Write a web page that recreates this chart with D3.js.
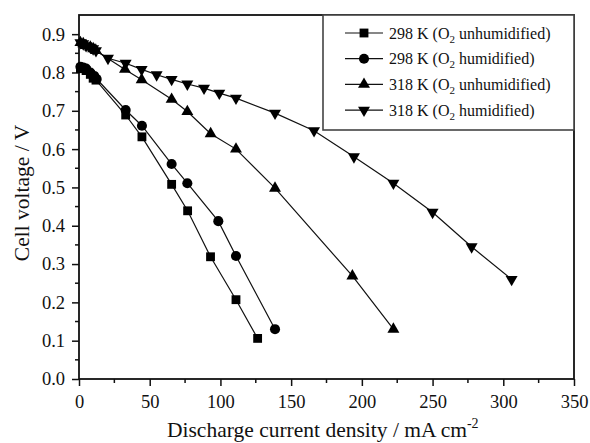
<!DOCTYPE html>
<html><head><meta charset="utf-8">
<script src="https://cdn.jsdelivr.net/npm/d3@7"></script>
<style>body{margin:0;background:#fff}svg{display:block}text{font-family:"Liberation Serif","Times New Roman",serif;fill:#111}</style>
</head><body><svg id="c" width="590" height="443"></svg>
<script>
const xTicks = [0,50,100,150,200,250,300,350];
const yTicks = [0.0,0.1,0.2,0.3,0.4,0.5,0.6,0.7,0.8,0.9];
const seriesNames = ["298 K (O", "298 K (O", "318 K (O", "318 K (O"];
const seriesSuffix = [" unhumidified)", " humidified)", " unhumidified)", " humidified)"];
const s298u_x = [1,3,5,8,10,12,33,44.5,65.5,76.8,93,111,126.3];
const s298u_y = [0.81,0.81,0.805,0.795,0.785,0.78,0.689,0.632,0.508,0.439,0.319,0.207,0.106];
const s298h_x = [1,3,5,8,10.8,12.5,33,44.5,65.5,76.6,98.5,111,138.6];
const s298h_y = [0.815,0.813,0.81,0.8,0.791,0.783,0.702,0.661,0.561,0.511,0.412,0.321,0.13];
const s318u_x = [1,3,5,8,10,12,32.5,44.3,65.5,76.6,93.1,111,138.6,193.3,222.3];
const s318u_y = [0.878,0.875,0.87,0.866,0.862,0.857,0.808,0.781,0.73,0.698,0.64,0.6,0.498,0.269,0.13];
const s318h_x = [1,3,5,8,10,12,20.5,33,44.3,54.9,65.5,76.6,88.4,99.2,111,138.6,166.2,194.4,222.3,250,277.6,305.9];
const s318h_y = [0.878,0.875,0.87,0.866,0.862,0.857,0.837,0.824,0.808,0.794,0.782,0.77,0.759,0.746,0.733,0.694,0.648,0.58,0.511,0.435,0.345,0.26];

const series = [
  {xs:s298u_x, ys:s298u_y, sym:d3.symbolSquare, size:78, rot:0},
  {xs:s298h_x, ys:s298h_y, sym:d3.symbolCircle, size:80, rot:0},
  {xs:s318u_x, ys:s318u_y, sym:d3.symbolTriangle, size:62, rot:0},
  {xs:s318h_x, ys:s318h_y, sym:d3.symbolTriangle, size:62, rot:180}
];

const svg = d3.select("#c");
const L=79, R=574, T=15, B=379;
const x = d3.scaleLinear().domain([0,350]).range([L,R]);
const y = d3.scaleLinear().domain([0,0.95]).range([B,T]);

// minor ticks
const xMinor = d3.range(25,350,50);
const yMinor = d3.range(0.05,0.95,0.1);
svg.append("g").selectAll("line").data(xMinor).join("line")
  .attr("x1",d=>x(d)).attr("x2",d=>x(d)).attr("y1",B).attr("y2",B+4)
  .attr("stroke","#111").attr("stroke-width",1.5);
svg.append("g").selectAll("line").data(yMinor).join("line")
  .attr("y1",d=>y(d)).attr("y2",d=>y(d)).attr("x1",L).attr("x2",L-4)
  .attr("stroke","#111").attr("stroke-width",1.5);

const xAxis = svg.append("g").attr("transform",`translate(0,${B})`)
  .call(d3.axisBottom(x).tickValues(xTicks).tickFormat(d3.format("d")).tickSize(7).tickPadding(9));
const yAxis = svg.append("g").attr("transform",`translate(${L},0)`)
  .call(d3.axisLeft(y).tickValues(yTicks).tickFormat(d3.format(".1f")).tickSize(7).tickPadding(7));
[xAxis,yAxis].forEach(a=>{
  a.select(".domain").remove();
  a.selectAll(".tick line").attr("stroke","#111").attr("stroke-width",1.5);
  a.selectAll(".tick text").attr("font-size",18.5).attr("font-family","Liberation Serif").attr("fill","#111");
});

// frame
svg.append("rect").attr("x",L).attr("y",T).attr("width",R-L).attr("height",B-T)
  .attr("fill","none").attr("stroke","#111").attr("stroke-width",1.8);

// series
const line = d3.line().x(d=>x(d[0])).y(d=>y(d[1]));
series.forEach(s=>{
  const pts = s.xs.map((v,i)=>[v,s.ys[i]]);
  svg.append("path").datum(pts).attr("d",line).attr("fill","none").attr("stroke","#111").attr("stroke-width",1.2);
  svg.append("g").selectAll("path").data(pts).join("path")
    .attr("d",d3.symbol(s.sym,s.size))
    .attr("transform",d=>`translate(${x(d[0])},${y(d[1])}) rotate(${s.rot})`)
    .attr("fill","#000");
});

// legend
const lg = svg.append("g");
lg.append("rect").attr("x",323).attr("y",T).attr("width",R-323).attr("height",115)
  .attr("fill","#fff").attr("stroke","#444").attr("stroke-width",1.6);
series.forEach((s,i)=>{
  const yy = 33 + i*25.7;
  lg.append("line").attr("x1",345).attr("x2",383).attr("y1",yy).attr("y2",yy).attr("stroke","#111").attr("stroke-width",1.2);
  lg.append("path").attr("d",d3.symbol(s.sym,s.size)).attr("transform",`translate(364,${yy}) rotate(${s.rot})`).attr("fill","#000");
  const t = lg.append("text").attr("x",389).attr("y",yy+5.5).attr("font-size",16);
  t.append("tspan").text(seriesNames[i]);
  t.append("tspan").attr("font-size",11).attr("dy",4).text("2");
  t.append("tspan").attr("dy",-4).text(seriesSuffix[i]);
});

// axis titles
const xt = svg.append("text").attr("x",167).attr("y",437).attr("font-size",21.5);
xt.append("tspan").text("Discharge current density / mA cm");
xt.append("tspan").attr("dy",-9).attr("font-size",14).text("-2");
svg.append("text").attr("transform",`translate(29,193) rotate(-90)`).attr("text-anchor","middle")
  .attr("font-size",21.5).text("Cell voltage / V");
</script></body></html>
